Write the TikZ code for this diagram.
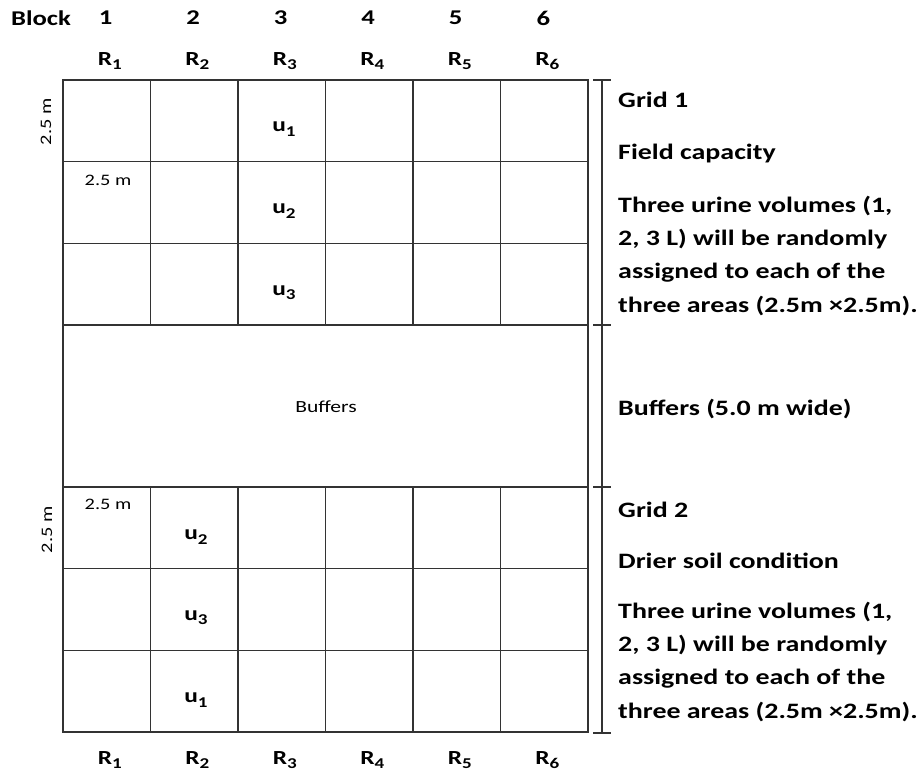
\documentclass[tikz,border=0pt]{standalone}
\usepackage{fontspec}
\setmainfont{Carlito}[FakeStretch=1.27]
\usetikzlibrary{positioning}

\newcommand{\subs}[1]{\raisebox{-0.45ex}{\fontsize{15}{15}\selectfont #1}}

\begin{document}
\begin{tikzpicture}[
    x=1pt, y=-1pt,
    gridline/.style={line width=1.2pt, black!80},
    barline/.style={line width=1.2pt, black!80},
    head/.style={font=\bfseries\fontsize{21}{24}\selectfont, inner sep=0pt},
    plotlbl/.style={font=\bfseries\fontsize{20}{24}\selectfont, inner sep=0pt},
    dimlbl/.style={font=\fontsize{16}{18}\selectfont, inner sep=0pt},
    note/.style={font=\bfseries\fontsize{22}{33.3}\selectfont, align=left, anchor=base west, inner sep=0pt}
]
\useasboundingbox (0,0) rectangle (917,775);

% plot grids
\draw[gridline] (63,80) rectangle (588,732);
\foreach \x in {150.5,238,325.5,413,500.5} {
  \draw[gridline] (\x,80) -- (\x,325);
  \draw[gridline] (\x,487) -- (\x,732);
}
\foreach \y in {161.7,243.3,325,487,568.7,650.3}
  \draw[gridline] (63,\y) -- (588,\y);

% scale bar on the right
\draw[barline] (602,80) -- (602,733);
\foreach \y in {80,325,487,733}
  \draw[barline] (593,\y) -- (611,\y);

% block numbers and replicates
\node[head] (block) at (41,18) {Block};
\foreach \i in {1,...,6} {
  \node[head] (b\i) at ({106.75+87.5*(\i-1)-1},18) {\i};
  \node[plotlbl] (rt\i) at ({106.75+87.5*(\i-1)+3},61) {R\subs{\i}};
  \node[plotlbl] (rb\i) at ({106.75+87.5*(\i-1)+3},760) {R\subs{\i}};
}

% urine volumes
\node[plotlbl] (ua1) at (284,129) {u\subs{1}};
\node[plotlbl] (ua2) at (284,211) {u\subs{2}};
\node[plotlbl] (ua3) at (284,293) {u\subs{3}};
\node[plotlbl] (ub2) at (196,537) {u\subs{2}};
\node[plotlbl] (ub3) at (196,618) {u\subs{3}};
\node[plotlbl] (ub1) at (196,700) {u\subs{1}};

% dimensions
\node[dimlbl, rotate=90] (dima) at (46,122) {2.5 m};
\node[dimlbl] (dimb) at (108,180) {2.5 m};
\node[dimlbl, rotate=90] (dimc) at (47,530) {2.5 m};
\node[dimlbl] (dimd) at (108,504) {2.5 m};
\node[dimlbl, font=\fontsize{17}{18}\selectfont] (buf) at (326,407) {Buffers};

% notes
\node[note] (grid1) at (618,108) {Grid 1};
\node[note] (field) at (618,160) {Field capacity};
\node[note] (vol1) at (618,312) {Three urine volumes (1,\\2, 3 L) will be randomly\\assigned to each of the\\three areas (2.5m ×2.5m).};
\node[note] (bufw) at (618,415) {Buffers (5.0 m wide)};
\node[note] (grid2) at (618,517) {Grid 2};
\node[note] (drier) at (618,568) {Drier soil condition};
\node[note] (vol2) at (618,718) {Three urine volumes (1,\\2, 3 L) will be randomly\\assigned to each of the\\three areas (2.5m ×2.5m).};
\end{tikzpicture}
\end{document}
